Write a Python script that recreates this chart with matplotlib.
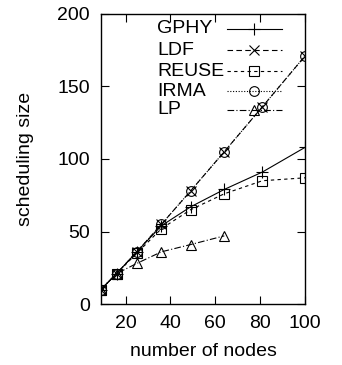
import matplotlib
matplotlib.use("Agg")
import matplotlib.pyplot as plt

plt.rcParams['font.family'] = ['Liberation Sans', 'DejaVu Sans']

nodes = [9, 16, 25, 36, 49, 64, 81, 100]
gphy = [10, 21, 36, 54, 67, 79, 91, 108]
ldf = [10, 21, 36, 55, 78, 105, 136, 171]
reuse = [10, 21, 35, 52, 65, 76, 85, 87]
irma = [10, 21, 36, 55, 78, 105, 136, 171]
lp_nodes = [9, 16, 25, 36, 49, 64]
lp = [10, 21, 28, 36, 41, 47]

fig = plt.figure(figsize=(3.42, 3.65), dpi=100)
ax = fig.add_axes([0.295, 0.167, 0.597, 0.795])

lw = 0.8
ms = 7
styles = [
    ('GPHY', nodes, gphy, dict(ls='-', marker='+', ms=ms + 1)),
    ('LDF', nodes, ldf, dict(ls=(0, (5, 3)), marker='x', ms=ms)),
    ('REUSE', nodes, reuse, dict(ls=(0, (3, 3)), marker='s', ms=ms, mfc='none')),
    ('IRMA', nodes, irma, dict(ls=(0, (1, 1.5)), marker='o', ms=ms, mfc='none')),
    ('LP', lp_nodes, lp, dict(ls=(0, (6, 2, 1, 2)), marker='^', ms=ms, mfc='none')),
]

row_y = [0.948, 0.874, 0.803, 0.734, 0.669]
for (name, xs, ys, st), ry in zip(styles, row_y):
    ax.plot(xs, ys, color='black', lw=lw, mew=0.8, **st)
    # gnuplot-style key: left-aligned label, sample line to the right
    ax.text(0.275, ry, name, transform=ax.transAxes, fontsize=14,
            ha='left', va='center')
    ax.plot([0.618, 0.887], [ry, ry], transform=ax.transAxes, color='black',
            lw=lw, ls=st['ls'], clip_on=False)
    ax.plot([0.752], [ry], transform=ax.transAxes, color='black', lw=0,
            marker=st['marker'], ms=st['ms'], mew=0.8,
            mfc=st.get('mfc', 'black'), clip_on=False)

ax.set_xlim(9, 100)
ax.set_ylim(0, 200)
ax.set_xticks([20, 40, 60, 80, 100])
ax.set_yticks([0, 50, 100, 150, 200])
ax.tick_params(direction='in', top=True, right=True, length=6, width=0.8, labelsize=14, pad=8)
for s in ax.spines.values():
    s.set_linewidth(1.0)

ax.set_xlabel('number of nodes', fontsize=14, labelpad=8)
ax.set_ylabel('scheduling size', fontsize=14, labelpad=17)

fig.savefig('out.png', dpi=100)
